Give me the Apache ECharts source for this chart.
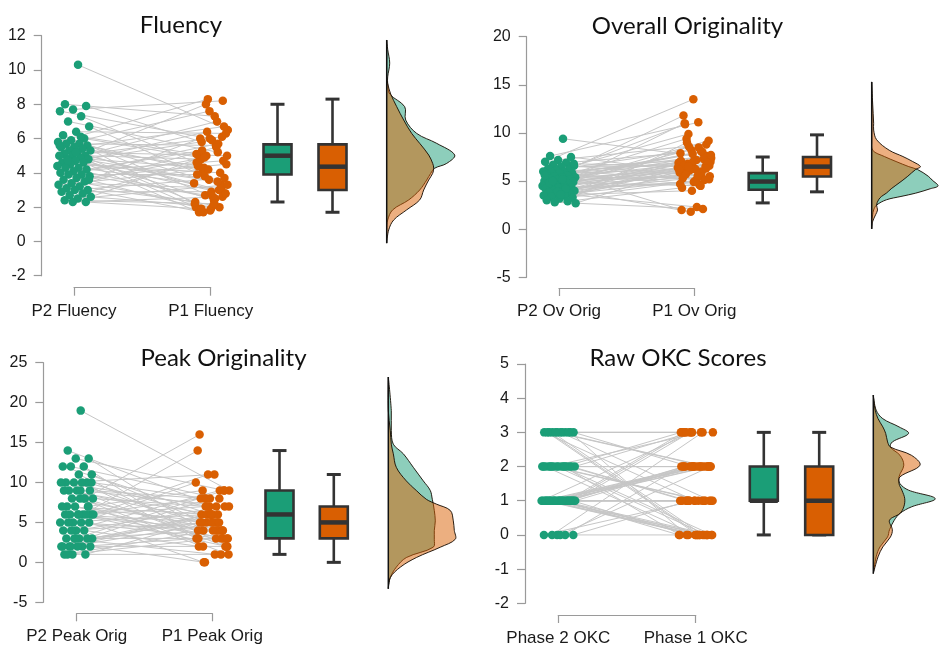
<!DOCTYPE html>
<html><head><meta charset="utf-8">
<script src="https://cdn.jsdelivr.net/npm/echarts@6/dist/echarts.min.js"></script>
<style>html,body{margin:0;padding:0;background:#fff}#c{width:940px;height:652px}</style>
</head><body><div id="c"></div>
<script>
// ---------------- DATA ----------------
const titles = ['Fluency', 'Overall Originality', 'Peak Originality', 'Raw OKC Scores'];
const fluLabels = ['P2 Fluency', 'P1 Fluency'];
const ovLabels = ['P2 Ov Orig', 'P1 Ov Orig'];
const pkLabels = ['P2 Peak Orig', 'P1 Peak Orig'];
const okcLabels = ['Phase 2 OKC', 'Phase 1 OKC'];

const fluYTicks = [-2, 0, 2, 4, 6, 8, 10, 12];
const ovYTicks = [-5, 0, 5, 10, 15, 20];
const pkYTicks = [-5, 0, 5, 10, 15, 20, 25];
const okcYTicks = [-2, -1, 0, 1, 2, 3, 4, 5];

const fluP2 = [10.3, 8.0, 7.9, 7.7, 7.6, 7.3, 7.0, 6.7, 6.4, 6.2, 6.0, 5.9, 5.8, 5.7, 5.7, 5.6, 5.5, 5.5, 5.4, 5.3, 5.3, 5.2, 5.1, 5.0, 5.0, 5.0, 4.9, 4.8, 4.8, 4.7, 4.6, 4.6, 4.5, 4.4, 4.3, 4.3, 4.2, 4.1, 4.0, 3.9, 3.9, 3.8, 3.7, 3.6, 3.5, 3.4, 3.3, 3.2, 3.1, 3.0, 3.0, 2.9, 2.8, 2.7, 2.6, 2.5, 2.4, 2.3, 2.3, 5.6, 6.1, 4.7, 3.6, 5.2];
const fluP1 = [6.5, 7.3, 5.8, 8.2, 6.0, 4.6, 5.2, 3.8, 6.3, 2.6, 4.9, 3.3, 8.3, 2.2, 5.6, 4.1, 6.7, 1.9, 4.4, 3.0, 8.0, 5.0, 2.4, 4.8, 6.1, 3.6, 2.0, 7.0, 4.3, 2.8, 5.9, 1.7, 4.0, 6.4, 3.4, 2.5, 5.3, 4.7, 1.8, 3.9, 5.7, 2.7, 4.5, 2.1, 6.0, 3.1, 4.2, 2.3, 5.5, 1.7, 3.7, 2.9, 4.6, 2.0, 5.0, 3.3, 2.2, 1.9, 2.6, 7.6, 5.1, 3.5, 4.9, 2.8];

const ovP2 = [9.4, 7.6, 7.5, 7.2, 7.0, 6.9, 6.7, 6.6, 6.5, 6.3, 6.2, 6.1, 6.0, 6.0, 5.9, 5.8, 5.8, 5.7, 5.6, 5.5, 5.4, 5.4, 5.3, 5.2, 5.1, 5.0, 5.0, 4.9, 4.9, 4.8, 4.7, 4.7, 4.6, 4.5, 4.5, 4.4, 4.3, 4.3, 4.2, 4.1, 4.0, 4.0, 3.9, 3.8, 3.7, 3.6, 3.5, 3.5, 3.4, 3.3, 3.2, 3.0, 2.9, 2.8, 2.7, 5.2, 4.8, 6.4, 3.9, 5.6, 4.2, 5.0, 6.8, 3.6];
const ovP1 = [7.4, 11.1, 6.0, 8.8, 13.5, 7.9, 5.6, 9.9, 6.6, 7.2, 11.8, 5.1, 8.2, 6.9, 4.6, 9.4, 7.6, 6.3, 2.0, 8.0, 6.1, 7.0, 5.4, 11.0, 6.5, 7.8, 5.9, 4.5, 6.8, 9.2, 6.2, 5.3, 7.3, 1.8, 6.4, 8.5, 5.7, 6.7, 4.9, 7.1, 6.0, 8.6, 5.5, 2.3, 6.6, 7.5, 4.0, 6.2, 5.8, 9.0, 6.9, 5.0, 4.3, 2.1, 6.4, 7.7, 5.6, 10.9, 6.3, 7.0, 4.7, 8.1, 6.5, 5.2];

const pkP2 = [19, 14, 13, 13, 12, 12, 12, 11, 11, 10, 10, 10, 10, 10, 9, 9, 9, 9, 8, 8, 8, 8, 7, 7, 7, 7, 6, 6, 6, 6, 6, 6, 5, 5, 5, 5, 5, 4, 4, 4, 4, 3, 3, 3, 3, 3, 2, 2, 2, 2, 2, 1, 1, 1, 6, 9, 1, 7, 3, 2, 8, 2, 10, 6];
const pkP1 = [9, 7, 4, 9, 6, 3, 8, 5, 2, 11, 6, 4, 7, 3, 5, 8, 2, 6, 16, 4, 7, 1, 5, 9, 3, 6, 14, 4, 7, 2, 5, 8, 3, 6, 10, 4, 0, 7, 5, 2, 9, 6, 3, 1, 5, 4, 8, 3, 6, 0, 2, 4, 5, 1, 11, 7, 3, 2, 9, 6, 4, 5, 8, 3];

const okcP2 = [3, 3, 3, 3, 3, 3, 3, 3, 3, 3, 3, 3, 2, 2, 2, 2, 2, 2, 2, 2, 2, 2, 2, 2, 2, 2, 2, 2, 1, 1, 1, 1, 1, 1, 1, 1, 1, 1, 1, 1, 1, 1, 1, 1, 1, 1, 1, 1, 1, 1, 1, 1, 1, 1, 1, 1, 1, 1, 0, 0, 0, 0, 0, 0];
const okcP1 = [3, 0, 0, 2, 1, 3, 0, 2, 1, 0, 3, 2, 2, 0, 3, 1, 2, 0, 2, 1, 3, 0, 2, 1, 0, 2, 3, 1, 1, 2, 0, 2, 1, 3, 0, 2, 1, 2, 0, 1, 2, 3, 0, 1, 2, 0, 2, 1, 2, 0, 1, 2, 3, 0, 2, 1, 0, 3, 0, 1, 2, 3, 1, 2];

// box statistics [lower whisker, Q1, median, Q3, upper whisker]
const fluBoxP2 = [2.3, 3.9, 5.0, 5.66, 8.0];
const fluBoxP1 = [1.7, 3.0, 4.36, 5.66, 8.3];
const ovBoxP2 = [2.73, 4.09, 4.95, 5.82, 7.5];
const ovBoxP1 = [3.88, 5.47, 6.5, 7.5, 9.8];
const pkBoxP2 = [1, 3, 6, 9, 14];
const pkBoxP1 = [0, 3, 5, 7, 11];
const okcBoxP2 = [0, 1, 1, 2, 3];
const okcBoxP1 = [0, 0, 1, 2, 3];

// density profiles (levels on the value scale, relative density widths)
const fluDensLev = [11.75, 11.2, 10.4, 9.6, 9.2, 8.6, 7.86, 7.08, 6.3, 5.72, 5.04, 4.55, 4.27, 3.97, 3.58, 3.0, 2.42, 1.84, 1.25, 0.67, -0.1];
const fluDensP2 = [0, 1, 3, 1, 1, 3, 18, 19, 30, 50, 68, 60, 48, 44, 40, 33, 22, 6, 1, 0, 0];
const fluDensP1 = [0, 0, 0, 0, 1, 4, 10, 17, 25, 33, 42, 46, 47, 46, 42, 37, 33, 20, 7, 2, 0];

const ovDensLev = [15.3, 13, 11, 10.3, 9.3, 8.2, 7.55, 7.03, 6.5, 6.2, 5.5, 5.1, 4.5, 4.2, 3.74, 3.4, 3.05, 2.5, 2.0, 1.5, 0.8, 0.03];
const ovDensP2 = [0, 0, 0, 0, 0, 1, 13, 25, 38, 47, 58, 62, 68, 60, 45, 30, 15, 5, 2, 1, 0, 0];
const ovDensP1 = [0, 1, 2, 2, 5, 18, 32, 42, 50, 45, 37, 32, 24, 20, 15, 10, 7, 5, 6, 4, 1, 0];

const pkDensLev = [23.2, 19, 16.5, 14.8, 13.6, 11.9, 10.2, 9.0, 7.9, 7.3, 6.5, 5.2, 4.0, 2.9, 1.9, 0.6, -0.6, -1.9, -3.3];
const pkDensP2 = [0, 3, 3, 5, 15, 25, 35, 42, 44, 45, 46, 47, 46, 46, 45, 18, 8, 2, 0];
const pkDensP1 = [0, 0, 2, 3, 5, 8, 18, 28, 38, 48, 62, 65, 66, 67, 52, 28, 12, 2, 0];

const okcDensLev = [4.09, 3.65, 3.4, 3.16, 2.97, 2.72, 2.57, 2.33, 2.04, 1.7, 1.5, 1.31, 1.06, 0.82, 0.63, 0.43, 0.15, -0.06, -0.35, -0.64, -1.13];
const okcDensP2 = [0, 3, 10, 27, 37, 20, 18, 28, 32, 27, 28, 37, 65, 40, 28, 22, 17, 15, 7, 3, 0];
const okcDensP1 = [0, 2, 5, 10, 13, 15, 18, 40, 49, 28, 27, 30, 33, 32, 28, 17, 20, 18, 10, 5, 0];

// ---------------- LAYOUT / STYLE ----------------
const GREEN = '#1b9e77', ORANGE = '#d95f02';
const GREEN_L = 'rgba(27,158,119,0.5)', ORANGE_L = 'rgba(217,95,2,0.5)';
const AXIS_C = '#9a9a9a';

const panels = [
  {labels: fluLabels, ticks: fluYTicks, p2: fluP2, p1: fluP1, box: [fluBoxP2, fluBoxP1], lev: fluDensLev, dG: fluDensP2, dO: fluDensP1},
  {labels: ovLabels, ticks: ovYTicks, p2: ovP2, p1: ovP1, box: [ovBoxP2, ovBoxP1], lev: ovDensLev, dG: ovDensP2, dO: ovDensP1},
  {labels: pkLabels, ticks: pkYTicks, p2: pkP2, p1: pkP1, box: [pkBoxP2, pkBoxP1], lev: pkDensLev, dG: pkDensP2, dO: pkDensP1},
  {labels: okcLabels, ticks: okcYTicks, p2: okcP2, p1: okcP1, box: [okcBoxP2, okcBoxP1], lev: okcDensLev, dG: okcDensP2, dO: okcDensP1}
];
const layout = [
  {tx: 176, ty: 20.5, yAxisX: 41.7, x1: 74, x2: 210.7, top: 35.7, bottom: 275.7, bracketY: 287.7, box1: 277.5, box2: 332.5, densX: 386.7},
  {tx: 682.5, ty: 21.5, yAxisX: 526.7, x1: 559, x2: 694.3, top: 36.7, bottom: 277.3, bracketY: 288, box1: 762.7, box2: 817, densX: 871.7},
  {tx: 218.5, ty: 353.5, yAxisX: 43.3, x1: 76.7, x2: 212.3, top: 362.7, bottom: 602.3, bracketY: 613.3, box1: 279.5, box2: 333.8, densX: 388.3},
  {tx: 673, ty: 353.5, yAxisX: 525, x1: 558.3, x2: 695.7, top: 364, bottom: 603.3, bracketY: 615, box1: 763.8, box2: 819.2, densX: 873.3}
];
const DENS_W = 70;

// deterministic horizontal jitter (layout only)
function jit(i, s) {
  const f = ((i + 1) * 0.6180339887 + s * 0.3819) % 1;
  return (f - 0.5) * 0.25;
}

const grid = [], xAxis = [], yAxis = [], series = [], title = [];

panels.forEach((p, k) => {
  const L = layout[k];
  const ymin = p.ticks[0], ymax = p.ticks[p.ticks.length - 1], yint = p.ticks[1] - p.ticks[0];
  const h = L.bottom - L.top;
  const gA = 3 * k, gB = 3 * k + 1, gC = 3 * k + 2;
  title.push({text: titles[k], left: L.tx, top: L.ty, textAlign: 'center', textVerticalAlign: 'middle',
    textStyle: {fontFamily: 'Lato', fontSize: 24, fontWeight: 'normal', color: '#111'}});
  grid.push({left: L.x1, top: L.top, width: L.x2 - L.x1, height: h});
  const sp = L.box2 - L.box1;
  grid.push({left: L.box1 - sp / 2, top: L.top, width: 2 * sp, height: h});
  grid.push({left: L.densX, top: L.top, width: DENS_W, height: h});

  xAxis.push({gridIndex: gA, type: 'value', min: 1, max: 2, interval: 1, position: 'bottom', offset: L.bracketY - L.bottom,
    axisLine: {show: true, onZero: false, lineStyle: {color: AXIS_C, width: 1.2}},
    axisTick: {show: true, length: 8, lineStyle: {color: AXIS_C, width: 1.2}},
    axisLabel: {margin: 15, fontFamily: 'Liberation Sans', fontSize: 17, color: '#1a1a1a',
      formatter: v => p.labels[Math.round(v) - 1]},
    splitLine: {show: false}});
  xAxis.push({gridIndex: gB, type: 'category', data: p.labels, show: false});
  xAxis.push({gridIndex: gC, type: 'value', min: 0, max: DENS_W, show: false});

  yAxis.push({gridIndex: gA, type: 'value', min: ymin, max: ymax, interval: yint, offset: L.x1 - L.yAxisX,
    axisLine: {show: true, onZero: false, lineStyle: {color: AXIS_C, width: 1.2}},
    axisTick: {show: true, length: 8, lineStyle: {color: AXIS_C, width: 1.2}},
    axisLabel: {margin: 16, fontFamily: 'Liberation Sans', fontSize: 16, color: '#1a1a1a'},
    splitLine: {show: false}});
  yAxis.push({gridIndex: gB, type: 'value', min: ymin, max: ymax, show: false});
  yAxis.push({gridIndex: gC, type: 'value', min: ymin, max: ymax, show: false});

  series.push({type: 'custom', xAxisIndex: gA, yAxisIndex: gA, silent: true, z: 1,
    data: p.p2.map((v, i) => [1 + jit(i, 0), v, 2 + jit(i, 1), p.p1[i]]),
    encode: {x: [0, 2], y: [1, 3]},
    renderItem: (params, api) => {
      const a = api.coord([api.value(0), api.value(1)]);
      const b = api.coord([api.value(2), api.value(3)]);
      return {type: 'line', shape: {x1: a[0], y1: a[1], x2: b[0], y2: b[1]},
        style: {stroke: '#c6c6c6', lineWidth: 1}};
    }});
  series.push({type: 'scatter', xAxisIndex: gA, yAxisIndex: gA, clip: false, silent: true, z: 3,
    symbolSize: 8.5, itemStyle: {color: GREEN, opacity: 1},
    data: p.p2.map((v, i) => [1 + jit(i, 0), v])});
  series.push({type: 'scatter', xAxisIndex: gA, yAxisIndex: gA, clip: false, silent: true, z: 3,
    symbolSize: 8.5, itemStyle: {color: ORANGE, opacity: 1},
    data: p.p1.map((v, i) => [2 + jit(i, 1), v])});

  series.push({type: 'custom', xAxisIndex: gB, yAxisIndex: gB, silent: true, z: 3,
    data: [
      {value: [0].concat(p.box[0]), itemStyle: {color: GREEN}},
      {value: [1].concat(p.box[1]), itemStyle: {color: ORANGE}}
    ],
    renderItem: (params, api) => {
      const c = api.value(0);
      const pMin = api.coord([c, api.value(1)]), pQ1 = api.coord([c, api.value(2)]),
        pMed = api.coord([c, api.value(3)]), pQ3 = api.coord([c, api.value(4)]),
        pMax = api.coord([c, api.value(5)]);
      const x = pMed[0], hw = 14, cw = 7;
      const st = {stroke: '#333', lineWidth: 2.6};
      return {type: 'group', children: [
        {type: 'line', shape: {x1: x, y1: pMax[1], x2: x, y2: pQ3[1]}, style: st},
        {type: 'line', shape: {x1: x, y1: pQ1[1], x2: x, y2: pMin[1]}, style: st},
        {type: 'line', shape: {x1: x - cw, y1: pMax[1], x2: x + cw, y2: pMax[1]}, style: {stroke: '#333', lineWidth: 3}},
        {type: 'line', shape: {x1: x - cw, y1: pMin[1], x2: x + cw, y2: pMin[1]}, style: {stroke: '#333', lineWidth: 3}},
        {type: 'rect', shape: {x: x - hw, y: pQ3[1], width: 2 * hw, height: pQ1[1] - pQ3[1]},
          style: {fill: api.visual('color'), stroke: '#333', lineWidth: 2.6}},
        {type: 'line', shape: {x1: x - hw, y1: pMed[1], x2: x + hw, y2: pMed[1]}, style: {stroke: '#333', lineWidth: 4.5}}
      ]};
    }});

  const densSeries = (dens, fill) => ({type: 'custom', xAxisIndex: gC, yAxisIndex: gC, silent: true, z: 2,
    data: [[0, p.lev[0]]],
    renderItem: (params, api) => {
      const pts = p.lev.map((v, j) => api.coord([dens[j], v]));
      return {type: 'polyline', shape: {points: pts, smooth: 0.35},
        style: {fill: fill, stroke: 'rgba(20,10,0,0.9)', lineWidth: 1}};
    }});
  series.push(densSeries(p.dG, GREEN_L));
  series.push(densSeries(p.dO, ORANGE_L));
  series.push({type: 'custom', xAxisIndex: gC, yAxisIndex: gC, silent: true, z: 3,
    data: [[0, p.lev[0]]],
    renderItem: (params, api) => {
      const a = api.coord([0, p.lev[0]]), b = api.coord([0, p.lev[p.lev.length - 1]]);
      return {type: 'line', shape: {x1: a[0], y1: a[1], x2: b[0], y2: b[1]}, style: {stroke: '#111', lineWidth: 1.5}};
    }});
});

const chart = echarts.init(document.getElementById('c'), null, {renderer: 'canvas'});
chart.setOption({animation: false, backgroundColor: '#fff', title, grid, xAxis, yAxis, series});
</script></body></html>
